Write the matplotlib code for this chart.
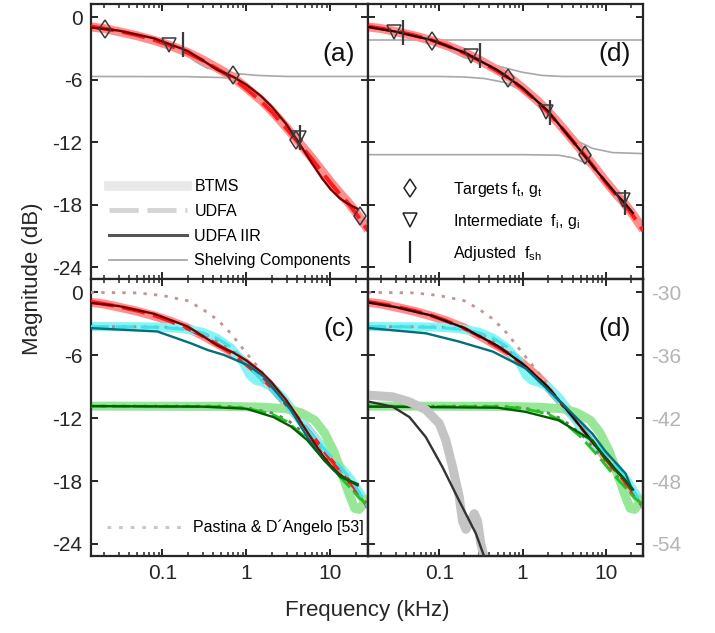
import numpy as np
import matplotlib.pyplot as plt
from matplotlib.lines import Line2D
from matplotlib.ticker import FixedLocator, LogLocator, NullFormatter

plt.rcParams["font.family"] = ["Liberation Sans", "DejaVu Sans"]
plt.rcParams["axes.unicode_minus"] = False
plt.rcParams["mathtext.fontset"] = "custom"
plt.rcParams["mathtext.rm"] = "Liberation Sans"
plt.rcParams["mathtext.it"] = "Liberation Sans:italic"

# ---- source 1 (red) : BTMS reference, UDFA, IIR fits -----------------------
red_f = [0.014, 0.02, 0.03, 0.05, 0.08, 0.12, 0.2, 0.3, 0.5, 0.7, 1.0, 1.5,
         2.0, 3.0, 4.0, 6.0, 8.0, 10, 13, 16, 20, 24, 28]
red_btms = [-0.95, -1.1, -1.4, -1.8, -2.25, -2.7, -3.4, -4.1, -5.1, -5.8, -6.8,
            -8.0, -9.0, -10.6, -11.8, -13.5, -14.8, -15.8, -16.9, -17.7,
            -18.7, -19.6, -20.4]
red_udfa = [-0.9, -1.1, -1.35, -1.75, -2.2, -2.7, -3.45, -4.15, -5.2, -5.9,
            -6.9, -8.1, -9.1, -10.7, -11.9, -13.6, -14.9, -15.9, -17.0, -17.8,
            -18.8, -19.7, -20.5]
red_iir2_f = [0.014, 0.03, 0.08, 0.2, 0.45, 0.7, 1.0, 1.5, 2.0, 3.0, 4.0, 6.0,
              8.0, 10, 13, 16, 21]
red_iir2 = [-1.0, -1.3, -2.05, -3.25, -5.05, -5.75, -6.5, -7.6, -8.6, -10.3,
            -11.8, -14.0, -15.5, -16.5, -17.4, -17.9, -18.4]
red_iir4_f = [0.014, 0.03, 0.08, 0.2, 0.5, 1.0, 2.0, 4.0, 8.0, 13, 17, 21]
red_iir4 = [-0.95, -1.4, -2.2, -3.4, -5.1, -6.8, -9.0, -11.9, -14.9, -16.9,
            -17.9, -18.8]

# ---- source 2 (cyan) --------------------------------------------------------
cyan_f = [0.014, 0.05, 0.1, 0.17, 0.3, 0.45, 0.65, 0.9, 1.1, 1.3, 1.6, 2.0,
          2.7, 3.5, 5, 7, 10, 14, 18, 23, 28]
cyan_btms = [-3.26, -3.28, -3.32, -3.45, -3.8, -4.4, -5.3, -6.6, -7.9, -8.4,
             -8.6, -9.0, -10.0, -11.2, -12.8, -14.2, -15.6, -16.9, -18.0,
             -19.3, -20.5]
cyan_udfa = [-3.26, -3.3, -3.35, -3.5, -3.85, -4.4, -5.2, -6.3, -7.1, -7.8,
             -8.6, -9.4, -10.5, -11.5, -12.8, -14.2, -15.6, -16.9, -18.0,
             -19.3, -20.5]
cyan_iir2_f = [0.014, 0.087, 0.217, 0.343, 0.54, 1.03, 1.62, 3.37, 5.3, 8.4,
               13.2, 21]
cyan_iir2 = [-3.41, -3.73, -4.85, -5.49, -5.97, -6.93, -8.04, -11.2, -13.8,
             -16.0, -17.6, -18.3]
cyan_iir4_f = [0.014, 0.069, 0.174, 0.44, 1.09, 2.73, 6.9, 9.7, 17.2, 20.6]
cyan_iir4 = [-3.4, -3.9, -4.7, -5.65, -7.25, -10.3, -13.5, -15.1, -17.3, -18.8]

# ---- source 3 (green) -------------------------------------------------------
green_btms_f = [0.014, 0.5, 1.5, 3.0, 4.5, 6.5, 8.5, 11, 14, 17, 19.5, 22, 25,
                28]
green_btms = [-10.85, -10.87, -10.95, -11.1, -11.5, -12.2, -13.4, -15.2,
              -17.5, -19.4, -20.6, -20.7, -20.1, -19.5]
green_udfa_f = [0.014, 0.5, 1.0, 2.0, 3.0, 5.0, 8.0, 12, 17, 22, 28]
green_udfa = [-10.85, -10.9, -11.05, -11.6, -12.3, -13.8, -15.6, -17.3, -18.6,
              -19.6, -20.3]
green_iir2_f = [0.014, 0.3, 1.0, 2.1, 3.4, 5.3, 8.4, 13.2, 21]
green_iir2 = [-10.85, -10.9, -11.1, -11.9, -12.8, -14.1, -16.0, -17.6, -18.3]
green_iir4_f = [0.014, 0.5, 1.09, 2.7, 6.9, 9.7, 17.2, 20.6]
green_iir4 = [-10.9, -11.0, -11.4, -12.2, -14.15, -15.8, -18.0, -18.8]

# ---- Pastina & D'Angelo model ----------------------------------------------
pda_red_f = [0.014, 0.05, 0.1, 0.2, 0.3, 0.45, 0.65, 1.0, 1.5, 2.5, 4, 6, 10,
             15, 20, 28]
pda_red = [0.0, -0.05, -0.3, -0.8, -1.6, -2.6, -3.9, -5.8, -7.5, -9.9, -11.9,
           -13.7, -15.9, -17.6, -18.8, -20.3]
pda_cyan_f = [0.014, 0.1, 0.2, 0.3, 0.5, 0.8, 1.2, 2, 3, 5, 8, 13, 20, 28]
pda_cyan = [-3.26, -3.3, -3.5, -3.9, -4.8, -6.0, -7.4, -9.2, -10.8, -12.9,
            -14.9, -17.0, -18.8, -20.3]
pda_green_f = [0.014, 0.5, 1, 2, 3, 5, 8, 12, 17, 22, 28]
pda_green = [-10.85, -10.85, -11.0, -11.5, -12.1, -13.5, -15.3, -17.0, -18.5,
             -19.5, -20.3]

# ---- far source, right-hand scale (dB) --------------------------------------
far_btms_f = [0.0138, 0.0276, 0.0437, 0.0692, 0.1, 0.12, 0.145, 0.174, 0.19,
              0.209, 0.24, 0.263, 0.288, 0.316, 0.347]
far_btms = [-39.8, -39.96, -40.44, -41.2, -42.5, -44.1, -46.7, -49.5, -51.8,
            -52.6, -51.8, -51.1, -51.8, -54.0, -55.3]
far_iir_f = [0.0138, 0.0276, 0.044, 0.069, 0.11, 0.174, 0.275, 0.35]
far_iir = [-40.4, -40.9, -41.9, -43.8, -46.7, -49.9, -53.0, -55.3]

# ---- shelving components ----------------------------------------------------
shelf2_a_f = [0.014, 0.05, 0.1, 0.17, 0.25, 0.34, 0.7, 1.35, 3, 28]
shelf2_a = [-1.0, -1.5, -2.4, -3.35, -4.3, -4.9, -5.4, -5.6, -5.7, -5.7]
shelf2_b_f = [0.014, 0.2, 0.5, 0.7, 1.0, 1.5, 2.0, 3.0, 4.0, 6.0, 8.0, 13, 21]
shelf2_b = [-5.7, -5.72, -5.8, -5.9, -6.4, -7.7, -8.7, -10.4, -11.9, -14.0,
            -15.5, -17.4, -18.4]
shelf4_1_f = [0.014, 28]
shelf4_1 = [-2.2, -2.2]
shelf4_2_f = [0.014, 0.03, 0.08, 0.2, 0.4, 0.63, 1.0, 1.7, 3, 28]
shelf4_2 = [-0.95, -1.4, -2.3, -3.9, -4.5, -4.9, -5.3, -5.6, -5.7, -5.7]
shelf4_3_f = [0.014, 0.1, 0.2, 0.35, 0.63, 1.0, 2.0, 4.0, 8.0, 13, 21]
shelf4_3 = [-5.7, -5.7, -5.75, -5.9, -6.3, -7.1, -9.2, -12.1, -15.0, -16.9,
            -18.8]
shelf4_4_f = [0.014, 0.03, 0.08, 0.2, 0.5, 1.0, 1.74, 3, 4.3, 6.9, 12, 28]
shelf4_4 = [-0.95, -1.4, -2.2, -3.4, -5.1, -6.8, -8.9, -10.7, -11.8, -12.6,
            -13.0, -13.1]
shelf4_5_f = [0.014, 1.0, 2.7, 4.0, 5.7, 8.0, 10.9, 16, 21]
shelf4_5 = [-13.2, -13.2, -13.25, -13.5, -14.0, -15.0, -16.2, -17.7, -18.8]

# ---- design points ----------------------------------------------------------
tgt2_f = [0.0206, 0.69, 3.87, 22.7]
tgt2_g = [-1.14, -5.6, -11.8, -19.1]
mid2_f = [0.12, 4.2]
mid2_g = [-2.7, -11.6]
adj2_f = [0.178, 4.3]
adj2_g = [-2.6, -11.5]

tgt4_f = [0.082, 0.67, 5.56]
tgt4_g = [-2.3, -5.8, -13.2]
mid4_f = [0.029, 0.24, 1.93, 16.2]
mid4_g = [-1.47, -3.7, -9.1, -17.5]
adj4_f = [0.037, 0.31, 2.13, 17.0]
adj4_g = [-1.4, -3.6, -9.1, -17.7]

y_ticks = [0, -6, -12, -18, -24]
y_ticks_right = [-30, -36, -42, -48, -54]

XLIM = (0.014, 28)
YLIM = (-25.15, 1.25)
AX_COLOR = "#262626"

BTMS_LW = 6.5
DASH = (6, 2.2)
DOT = (1.2, 2.6)


def style_axis(ax, left_labels, bottom_labels):
    ax.set_xscale("log")
    ax.set_xlim(*XLIM)
    ax.set_ylim(*YLIM)
    ax.xaxis.set_major_locator(FixedLocator([0.1, 1, 10]))
    ax.xaxis.set_minor_locator(LogLocator(base=10, subs=np.arange(2, 10)))
    ax.xaxis.set_minor_formatter(NullFormatter())
    ax.set_xticklabels(["0.1", "1", "10"] if bottom_labels else [])
    ax.set_yticks(y_ticks)
    ax.set_yticklabels([str(t) for t in y_ticks] if left_labels else [])
    ax.tick_params(which="both", direction="in", top=True, right=True,
                   color=AX_COLOR, labelcolor=AX_COLOR, labelsize=15)
    ax.tick_params(which="major", length=5, width=1.4, pad=6)
    ax.tick_params(which="minor", length=3, width=1.1)
    for sp in ax.spines.values():
        sp.set_color(AX_COLOR)
        sp.set_linewidth(1.6)


def panel_label(ax, text):
    ax.text(0.895, 0.82, text, transform=ax.transAxes, ha="center",
            va="center", fontsize=19, color="#111111")


def draw_source(ax, f_b, btms, f_u, udfa, f_i, iir, c_btms, c_udfa, c_iir,
                f_p=None, pda=None, c_pda=None, lw_udfa=2.8):
    ax.plot(f_b, btms, color=c_btms, lw=BTMS_LW, solid_capstyle="butt",
            zorder=2)
    if f_p is not None:
        ax.plot(f_p, pda, color=c_pda, lw=2.0, dashes=DOT, zorder=3)
    ax.plot(f_u, udfa, color=c_udfa, lw=lw_udfa, dashes=DASH, zorder=4)
    ax.plot(f_i, iir, color=c_iir, lw=1.7, zorder=5)


def draw_points(ax, tf, tg, mf, mg, af, ag):
    mk = dict(ls="none", mfc="none", mec="#3a3a3a", mew=1.1, zorder=7)
    ax.plot(tf, tg, marker="d", ms=9.5, **mk)
    ax.plot(mf, mg, marker="v", ms=9.5, **mk)
    ax.plot(af, ag, marker="|", ms=18, mew=1.6, ls="none", color="#3a3a3a",
            zorder=7)


fig = plt.figure(figsize=(7.15, 6.33), dpi=100)
L0, W = 0.1269, 0.3878
R0, WR = 0.5147, 0.3850
B_TOP, H_TOP = 0.5588, 0.4349
B_BOT, H_BOT = 0.1216, 0.4372

ax_a = fig.add_axes([L0, B_TOP, W, H_TOP])
ax_b = fig.add_axes([R0, B_TOP, WR, H_TOP])
ax_c = fig.add_axes([L0, B_BOT, W, H_BOT])
ax_d = fig.add_axes([R0, B_BOT, WR, H_BOT])

style_axis(ax_a, True, False)
style_axis(ax_b, False, False)
style_axis(ax_c, True, True)
style_axis(ax_d, False, True)
ax_d.tick_params(which="both", right=False)

SHELF = dict(color="#a8a8a8", lw=1.2, zorder=1)
PINK, RED, MAROON = "#ff8f8f", "#ff1a1a", "#7a0000"
CYAN, CYAN_D, TEAL = "#86f4f4", "#3fe2ea", "#00707a"
LGREEN, GREEN, DGREEN = "#98e698", "#22c422", "#006000"

# (a): two-shelf design
ax_a.plot(shelf2_a_f, shelf2_a, **SHELF)
ax_a.plot(shelf2_b_f, shelf2_b, **SHELF)
draw_source(ax_a, red_f, red_btms, red_f, red_udfa, red_iir2_f, red_iir2,
            PINK, RED, MAROON)
draw_points(ax_a, tgt2_f, tgt2_g, mid2_f, mid2_g, adj2_f, adj2_g)
panel_label(ax_a, "(a)")

leg_a = [
    Line2D([], [], color="#e8e8e8", lw=7),
    Line2D([], [], color="#d4d4d4", lw=3.5, dashes=(6, 1.8)),
    Line2D([], [], color="#555555", lw=2.2),
    Line2D([], [], color="#a0a0a0", lw=1.2),
]
ax_a.legend(leg_a, ["BTMS", "UDFA", "UDFA IIR", "Shelving Components"],
            loc="lower left", bbox_to_anchor=(0.025, 0.0), frameon=False,
            fontsize=11.5, handlelength=4.9, handletextpad=0.45,
            labelspacing=0.6, borderpad=0.2)

# (d) top: four-shelf design
for sf, sv in [(shelf4_1_f, shelf4_1), (shelf4_2_f, shelf4_2),
               (shelf4_3_f, shelf4_3), (shelf4_4_f, shelf4_4),
               (shelf4_5_f, shelf4_5)]:
    ax_b.plot(sf, sv, **SHELF)
draw_source(ax_b, red_f, red_btms, red_f, red_udfa, red_iir4_f, red_iir4,
            PINK, RED, "#3a0000")
draw_points(ax_b, tgt4_f, tgt4_g, mid4_f, mid4_g, adj4_f, adj4_g)
panel_label(ax_b, "(d)")

leg_b = [
    Line2D([], [], ls="none", marker="d", ms=9.5, mfc="none", mec="#222222",
           mew=1.1),
    Line2D([], [], ls="none", marker="v", ms=9.5, mfc="none", mec="#222222",
           mew=1.1),
    Line2D([], [], ls="none", marker="|", ms=16, mew=1.6, color="#222222"),
]
ax_b.legend(leg_b, [r"Targets f$_\mathrm{t}$, g$_\mathrm{t}$",
                    r"Intermediate  f$_\mathrm{i}$, g$_\mathrm{i}$",
                    r"Adjusted  f$_\mathrm{sh}$"],
            loc="lower left", bbox_to_anchor=(0.07, 0.02), frameon=False,
            fontsize=11.5, handlelength=1.5, handletextpad=1.9,
            labelspacing=0.8, borderpad=0.2)

# (c): three sources, two-shelf fits
draw_source(ax_c, red_f, red_btms, red_f, red_udfa, red_iir2_f, red_iir2,
            PINK, RED, MAROON, pda_red_f, pda_red, "#c49494")
draw_source(ax_c, cyan_f, cyan_btms, cyan_f, cyan_udfa, cyan_iir2_f,
            cyan_iir2, CYAN, CYAN_D, TEAL, pda_cyan_f, pda_cyan, "#909898",
            lw_udfa=2.2)
draw_source(ax_c, green_btms_f, green_btms, green_udfa_f, green_udfa,
            green_iir2_f, green_iir2, LGREEN, GREEN, DGREEN, pda_green_f,
            pda_green, "#6d7d6d", lw_udfa=2.0)
panel_label(ax_c, "(c)")
ax_c.legend([Line2D([], [], color="#c8c8c8", lw=2.2, dashes=DOT)],
            ["Pastina & D\u00b4Angelo [53]"], loc="lower left",
            bbox_to_anchor=(0.02, 0.035), frameon=False, fontsize=11.5,
            handlelength=4.9, handletextpad=0.45, borderpad=0.2)

# (d) bottom: three sources, four-shelf fits, plus far source on right scale
draw_source(ax_d, red_f, red_btms, red_f, red_udfa, red_iir4_f, red_iir4,
            PINK, RED, "#3a0000", pda_red_f, pda_red, "#c49494")
draw_source(ax_d, cyan_f, cyan_btms, cyan_f, cyan_udfa, cyan_iir4_f,
            cyan_iir4, CYAN, CYAN_D, TEAL, pda_cyan_f, pda_cyan, "#909898",
            lw_udfa=2.2)
draw_source(ax_d, green_btms_f, green_btms, green_udfa_f, green_udfa,
            green_iir4_f, green_iir4, LGREEN, GREEN, DGREEN, pda_green_f,
            pda_green, "#6d7d6d", lw_udfa=2.0)
panel_label(ax_d, "(d)")

ax_r = ax_d.twinx()
ax_r.set_ylim(YLIM[0] - 30, YLIM[1] - 30)
ax_r.plot(far_btms_f, far_btms, color="#c4c4c4", lw=BTMS_LW, zorder=2,
          solid_capstyle="butt")
ax_r.plot(far_iir_f, far_iir, color="#333333", lw=1.7, zorder=3)
ax_r.set_yticks(y_ticks_right)
ax_r.set_yticklabels([str(t) for t in y_ticks_right])
ax_r.tick_params(direction="in", length=5, width=1.4, color=AX_COLOR,
                 labelcolor="#b4b4b4", labelsize=15, pad=6)
for sp in ax_r.spines.values():
    sp.set_color(AX_COLOR)
    sp.set_linewidth(1.6)
ax_r.set_xlim(*XLIM)

fig.text(0.514, 0.035, "Frequency (kHz)", ha="center", va="center",
         fontsize=16, color=AX_COLOR)
fig.text(0.045, 0.56, "Magnitude (dB)", ha="center", va="center",
         rotation=90, fontsize=16, color=AX_COLOR)

fig.savefig("out.png", dpi=100)
